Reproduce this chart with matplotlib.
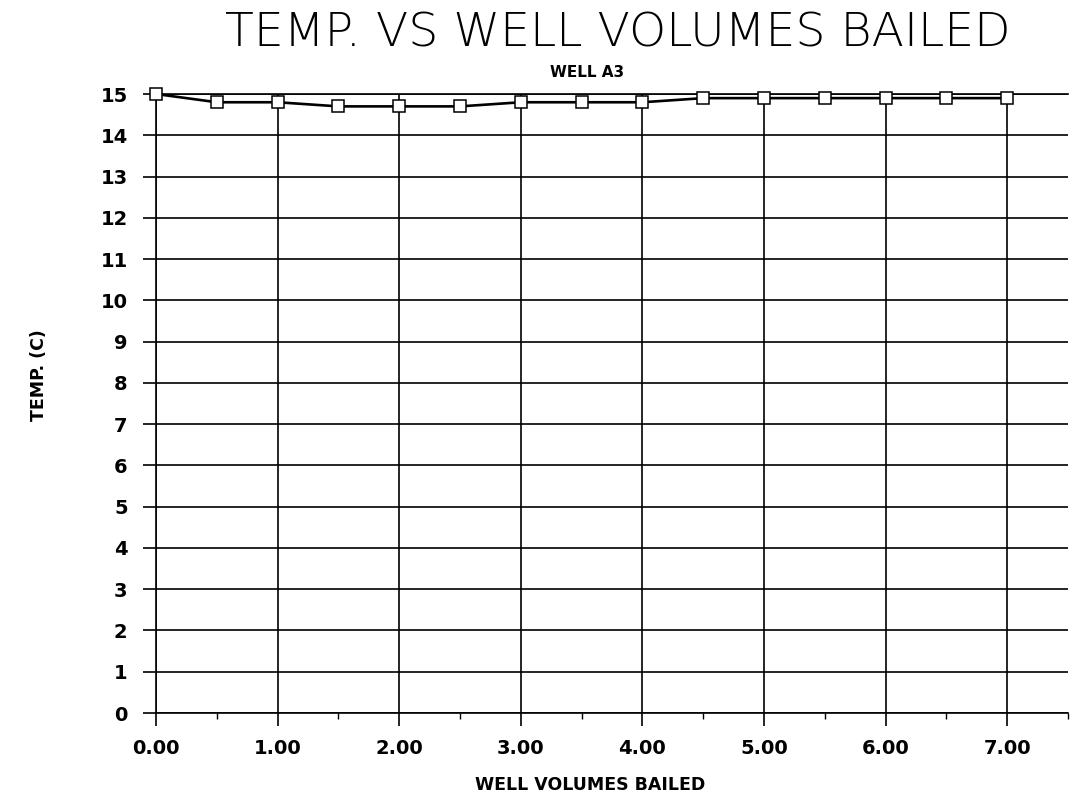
import matplotlib
matplotlib.use("Agg")
import matplotlib.pyplot as plt
from matplotlib.ticker import MultipleLocator

# Temperature readings taken while bailing well A3
volumes = [0.0, 0.5, 1.0, 1.5, 2.0, 2.5, 3.0, 3.5, 4.0, 4.5, 5.0, 5.5, 6.0, 6.5, 7.0]
temps = [15.0, 14.8, 14.8, 14.7, 14.7, 14.7, 14.8, 14.8, 14.8, 14.9, 14.9, 14.9, 14.9, 14.9, 14.9]

x_ticks = [0, 1, 2, 3, 4, 5, 6, 7]
x_tick_labels = ["0.00", "1.00", "2.00", "3.00", "4.00", "5.00", "6.00", "7.00"]
y_ticks = list(range(0, 16))

title = "TEMP. VS WELL VOLUMES BAILED"
subtitle = "WELL A3"
x_label = "WELL VOLUMES BAILED"
y_label = "TEMP. (C)"

fig = plt.figure(figsize=(10.71, 7.98), dpi=100)
ax = fig.add_axes([0.1457, 0.1065, 0.8515, 0.7757])

ax.plot(volumes, temps, color="black", lw=1.9, marker="s", markersize=8.5,
        markerfacecolor="white", markeredgecolor="black", markeredgewidth=1.1,
        zorder=3, clip_on=False)

ax.set_xlim(0, 7.5)
ax.set_ylim(0, 15)
ax.set_xticks(x_ticks)
ax.set_xticklabels(x_tick_labels)
ax.set_yticks(y_ticks)
ax.xaxis.set_minor_locator(MultipleLocator(0.5))

ax.grid(True, which="major", color="black", lw=1.2)
for side in ("left", "bottom", "top"):
    ax.spines[side].set_linewidth(1.2)
ax.spines["right"].set_visible(False)

ax.tick_params(axis="both", which="major", direction="out", length=9.5,
               width=1.2, color="black")
ax.tick_params(axis="y", pad=11)
ax.tick_params(axis="x", pad=9)
ax.tick_params(axis="x", which="minor", direction="out", length=4, width=1.0)
ax.tick_params(axis="y", which="minor", left=False)
for lab in ax.get_xticklabels() + ax.get_yticklabels():
    lab.set_fontweight("bold")
    lab.set_fontsize(14)

fig.text(0.577, 0.958, title, ha="center", va="center", fontsize=34,
         fontweight="light")
fig.text(0.548, 0.909, subtitle, ha="center", va="center", fontsize=11,
         fontweight="bold")
fig.text(0.551, 0.016, x_label, ha="center", va="center", fontsize=12.5,
         fontweight="bold")
fig.text(0.036, 0.53, y_label, ha="center", va="center", rotation=90,
         fontsize=12.5, fontweight="bold")

fig.savefig("out.png", dpi=100, facecolor="white")
